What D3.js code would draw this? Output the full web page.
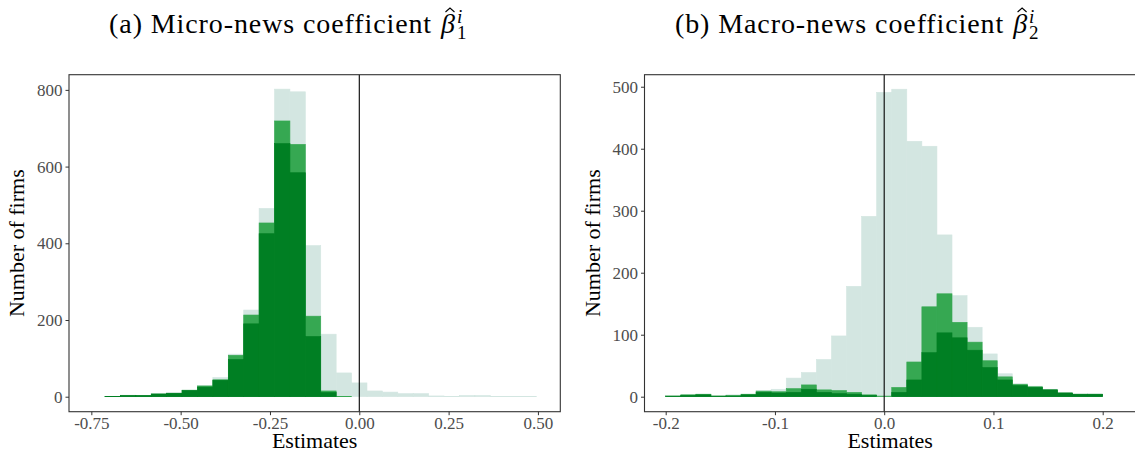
<!DOCTYPE html>
<meta charset="utf-8">
<style>
body { margin: 0; background: #fff; }
.tick text { font-family: "Liberation Serif", serif; font-size: 17px; fill: #4d4d4d; }
.tick line { stroke: #333; }
.domain { display: none; }
.lab { font-family: "Liberation Serif", serif; font-size: 22px; fill: #000; }
.ttl { font-family: "Liberation Serif", serif; font-size: 28px; fill: #000; letter-spacing: 0.9px; }
</style>
<body>
<script src="https://d3js.org/d3.v7.min.js"></script>
<script>

// panel (a): micro-news coefficient, 28 bins
var microBinStart = -0.7117,
    microBinWidth = 0.04313;
var microAll  = [1, 4, 3, 8, 10, 17, 29, 50, 111, 226, 491, 802, 795, 394, 163, 62, 36, 15, 12, 8, 8, 2, 1, 3, 3, 1, 1, 1];
var microMid  = [1, 3, 3, 7, 9, 17, 28, 44, 108, 213, 453, 719, 658, 210, 15, 1, 0, 0, 0, 0, 0, 0, 0, 0, 0, 0, 0, 0];
var microDark = [1, 3, 3, 7, 9, 16, 25, 43, 97, 190, 425, 660, 584, 157, 11, 0, 0, 0, 0, 0, 0, 0, 0, 0, 0, 0, 0, 0];
var microTicksX = [-0.75, -0.50, -0.25, 0.00, 0.25, 0.50];
var microTicksY = [0, 200, 400, 600, 800];

// panel (b): macro-news coefficient, 29 bins
var macroBinStart = -0.2,
    macroBinWidth = 0.4 / 29;
var macroAll  = [1, 3, 4, 1, 3, 4, 10, 12, 30, 39, 60, 98, 178, 291, 491, 496, 412, 404, 261, 163, 112, 69, 37, 21, 17, 12, 6, 4, 4];
var macroMid  = [1, 3, 4, 1, 2, 4, 9, 8, 13, 19, 11, 10, 7, 3, 1, 15, 56, 145, 166, 120, 88, 58, 32, 20, 16, 11, 6, 4, 4];
var macroDark = [1, 2, 3, 1, 1, 3, 7, 6, 7, 12, 7, 5, 4, 2, 0, 7, 27, 71, 103, 95, 75, 47, 27, 18, 15, 11, 6, 4, 4];
var macroTicksX = [-0.2, -0.1, 0.0, 0.1, 0.2];
var macroTicksY = [0, 100, 200, 300, 400, 500];

var colAll = "#d3e6e1", colMid = "#36a852", colDark = "#007f23";

var W = 1135, H = 456;
var svg = d3.select("body").append("svg")
    .attr("width", W)
    .attr("height", H);

var plotTop = 74.7, plotBottom = 411.7;

function panel(opt) {
  var x = d3.scaleLinear().domain(opt.xdom).range([opt.left, opt.right]);
  var y = d3.scaleLinear().domain(opt.ydom).range([plotBottom, plotTop]);
  var g = svg.append("g");

  // histogram layers, light one behind
  [[opt.all, colAll], [opt.mid, colMid], [opt.dark, colDark]].forEach(function(l) {
    g.append("g").selectAll("rect")
      .data(l[0])
      .enter().append("rect")
        .attr("x", function(d, i) { return x(opt.start + i * opt.width); })
        .attr("width", function(d, i) { return x(opt.start + (i + 1) * opt.width) - x(opt.start + i * opt.width); })
        .attr("y", function(d) { return y(d); })
        .attr("height", function(d) { return y(0) - y(d); })
        .style("fill", l[1])
        .style("stroke", l[1])
        .style("stroke-width", 0.6);
  });

  // zero line
  g.append("line")
      .attr("x1", x(0)).attr("x2", x(0))
      .attr("y1", plotTop).attr("y2", plotBottom)
      .style("stroke", "#000")
      .style("stroke-width", 1.1);

  // border
  g.append("rect")
      .attr("x", opt.left).attr("y", plotTop)
      .attr("width", opt.right - opt.left).attr("height", plotBottom - plotTop)
      .style("fill", "none")
      .style("stroke", "#333")
      .style("stroke-width", 1.1);

  g.append("g")
      .attr("transform", "translate(0," + plotBottom + ")")
      .call(d3.axisBottom(x).tickValues(opt.ticksX).tickSize(3.5).tickPadding(2))
    .selectAll("text").text(function(d) { return d3.format(opt.fmt)(d).replace("−", "-"); });

  g.append("g")
      .attr("transform", "translate(" + opt.left + ",0)")
      .call(d3.axisLeft(y).tickValues(opt.ticksY).tickSize(3.5).tickPadding(3));

  g.append("text")
      .attr("class", "lab")
      .attr("x", (opt.left + opt.right) / 2)
      .attr("y", 448)
      .attr("text-anchor", "middle")
      .text("Estimates");

  g.append("text")
      .attr("class", "lab")
      .attr("transform", "translate(" + (opt.left - 45) + "," + ((plotTop + plotBottom) / 2) + ") rotate(-90)")
      .attr("text-anchor", "middle")
      .text("Number of firms");

  // title with beta hat, sub and superscript
  var t = svg.append("g");
  var main = t.append("text").attr("class", "ttl").attr("x", 0).attr("y", 0).text(opt.title);
  var w0 = main.node().getComputedTextLength() + 9;
  var beta = t.append("text").attr("class", "ttl").attr("x", w0).attr("y", 0)
      .style("font-style", "italic").text("β");
  var bw = beta.node().getComputedTextLength();
  t.append("path")
      .attr("d", "M" + (w0 + bw / 2 - 3) + ",-21 l4.5,-4 l4.5,4")
      .style("fill", "none").style("stroke", "#000").style("stroke-width", 1.1);
  t.append("text").attr("class", "ttl").attr("x", w0 + bw + 1).attr("y", -10)
      .style("font-size", "19px").style("font-style", "italic").text("i");
  t.append("text").attr("class", "ttl").attr("x", w0 + bw + 1).attr("y", 6)
      .style("font-size", "19px").text(opt.sub);
  var tw = w0 + bw + 11;
  t.attr("transform", "translate(" + (opt.titleCx - tw / 2) + ",33)");
}

panel({
  left: 69, right: 560.3, xdom: [-0.8125, 0.5626], ydom: [-39.1, 839.6],
  start: microBinStart, width: microBinWidth,
  all: microAll, mid: microMid, dark: microDark,
  ticksX: microTicksX, ticksY: microTicksY, fmt: ".2f",
  title: "(a) Micro-news coefficient", sub: "1", titleCx: 288
});

panel({
  left: 644.5, right: 1135.8, xdom: [-0.2194, 0.2303], ydom: [-24.2, 519.4],
  start: macroBinStart, width: macroBinWidth,
  all: macroAll, mid: macroMid, dark: macroDark,
  ticksX: macroTicksX, ticksY: macroTicksY, fmt: ".1f",
  title: "(b) Macro-news coefficient", sub: "2", titleCx: 857
});

</script>
</body>
